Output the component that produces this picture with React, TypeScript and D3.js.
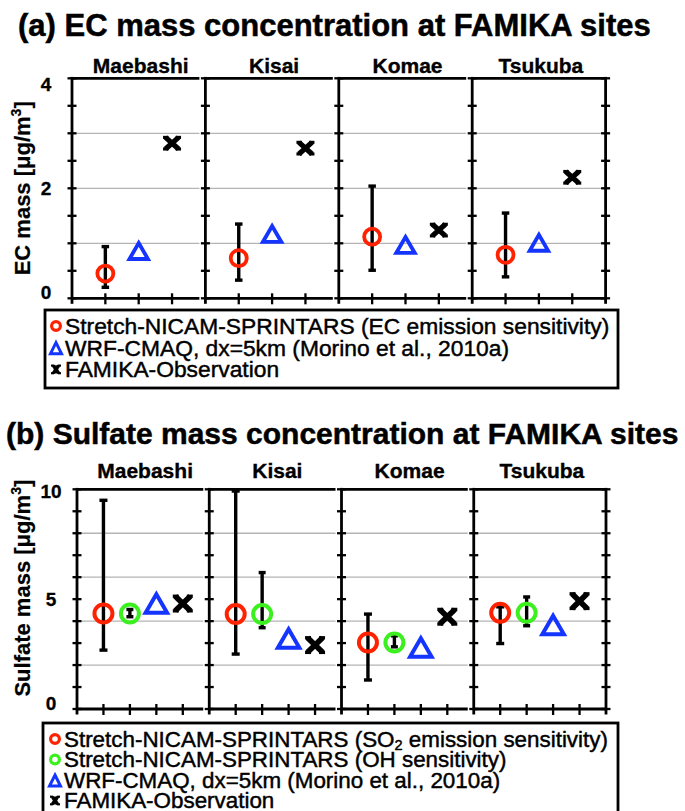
import React from 'react';
import * as d3 from 'd3';

// ---------- data ----------
const sites = ['Maebashi', 'Kisai', 'Komae', 'Tsukuba'];

// (a) EC mass concentration [ug/m3]
const ecNicam = [0.45, 0.73, 1.12, 0.79];
const ecNicamLow = [0.2, 0.33, 0.51, 0.39];
const ecNicamHigh = [0.94, 1.35, 2.04, 1.55];
const ecWrf = [0.86, 1.17, 0.97, 1.01];
const ecObs = [2.82, 2.73, 1.24, 2.2];
const ecTickLabels = [0, 2, 4];

// (b) Sulfate mass concentration [ug/m3]
const so4So2 = [4.35, 4.32, 3.03, 4.38];
const so4So2Low = [2.68, 2.5, 1.32, 2.98];
const so4So2High = [9.5, 9.92, 4.32, 4.65];
const so4Oh = [4.35, 4.32, 3.03, 4.38];
const so4OhLow = [4.2, 3.7, 2.83, 3.79];
const so4OhHigh = [4.53, 6.21, 3.33, 5.1];
const so4Wrf = [4.8, 3.21, 2.8, 3.82];
const so4Obs = [4.8, 2.91, 4.2, 4.91];
const so4TickLabels = [0, 5, 10];

const RED = '#ff2200';
const GREEN = '#3cf020';
const BLUE = '#1434ff';
const FONT = "'Liberation Sans', Arial, Helvetica, sans-serif";

const legendA = [
  { kind: 'circle', color: RED, text: 'Stretch-NICAM-SPRINTARS (EC emission sensitivity)' },
  { kind: 'tri', color: BLUE, text: 'WRF-CMAQ, dx=5km (Morino et al., 2010a)' },
  { kind: 'x', color: '#000', text: 'FAMIKA-Observation' },
];
const legendB = [
  { kind: 'circle', color: RED, text: 'Stretch-NICAM-SPRINTARS (SO|2| emission sensitivity)' },
  { kind: 'circle', color: GREEN, text: 'Stretch-NICAM-SPRINTARS (OH sensitivity)' },
  { kind: 'tri', color: BLUE, text: 'WRF-CMAQ, dx=5km (Morino et al., 2010a)' },
  { kind: 'x', color: '#000', text: 'FAMIKA-Observation' },
];

// ---------- marker shapes ----------
function Circle({ x, y, r, color, sw = 3.8 }: any) {
  return <circle cx={x} cy={y} r={r} fill="none" stroke={color} strokeWidth={sw} />;
}
function Tri({ x, y, w, h, color, sw = 3.8 }: any) {
  const p = `M${x},${y - h / 2}L${x + w / 2},${y + h / 2}L${x - w / 2},${y + h / 2}Z`;
  return <path d={p} fill="none" stroke={color} strokeWidth={sw} strokeLinejoin="miter" />;
}
function XMark({ x, y, w, h, sw = 5.2 }: any) {
  const a = w / 2 - 2.5;
  const b = h / 2 - 1.2;
  const c = Math.max(3, w * 0.3);
  return (
    <g stroke="#000" fill="none">
      <line x1={x - a} y1={y - b} x2={x + a} y2={y + b} strokeWidth={sw} />
      <line x1={x - a} y1={y + b} x2={x + a} y2={y - b} strokeWidth={sw} />
      <line x1={x - w / 2} y1={y - b} x2={x - w / 2 + c} y2={y - b} strokeWidth={sw * 0.6} />
      <line x1={x + w / 2} y1={y - b} x2={x + w / 2 - c} y2={y - b} strokeWidth={sw * 0.6} />
      <line x1={x - w / 2} y1={y + b} x2={x - w / 2 + c} y2={y + b} strokeWidth={sw * 0.6} />
      <line x1={x + w / 2} y1={y + b} x2={x + w / 2 - c} y2={y + b} strokeWidth={sw * 0.6} />
    </g>
  );
}
function ErrBar({ x, y1, y2, cap = 8 }: any) {
  return (
    <g stroke="#000" strokeWidth={3.4}>
      <line x1={x} x2={x} y1={y1} y2={y2} />
      <line x1={x - cap / 2} x2={x + cap / 2} y1={y1} y2={y1} />
      <line x1={x - cap / 2} x2={x + cap / 2} y1={y2} y2={y2} />
    </g>
  );
}

// ---------- panel frame ----------
function Frames({ left0, right, top, bottom, nCat, yScale, ticks, grids, labels, labelX, clampTop }: any) {
  const panelX = d3.scaleLinear().domain([0, sites.length]).range([left0, right]);
  const pw = panelX(1) - panelX(0);
  const inner = d3.scaleLinear().domain([0, nCat + 1]).range([0, pw]);
  const out: any[] = [];
  sites.forEach((s, i) => {
    const L = panelX(i);
    const last = i === sites.length - 1;
    const R = last ? L + pw : L + pw - 6;
    grids.forEach((g: number) =>
      out.push(<line key={`g${i}-${g}`} x1={L} x2={R} y1={yScale(g)} y2={yScale(g)} stroke="#b4b4b4" strokeWidth={1.3} />)
    );
    out.push(<line key={`t${i}`} x1={L} x2={R} y1={top} y2={top} stroke="#000" strokeWidth={2.8} />);
    out.push(<line key={`b${i}`} x1={L} x2={R} y1={bottom} y2={bottom} stroke="#000" strokeWidth={2.8} />);
    out.push(<line key={`l${i}`} x1={L} x2={L} y1={top - 1.4} y2={bottom + 5.5} stroke="#000" strokeWidth={2.8} />);
    ticks.forEach((t: number) =>
      out.push(<line key={`yt${i}-${t}`} x1={L - 4.5} x2={L + 4.5} y1={yScale(t)} y2={yScale(t)} stroke="#000" strokeWidth={2.3} />)
    );
    d3.range(1, nCat + 1).forEach((c) =>
      out.push(<line key={`xt${i}-${c}`} x1={L + inner(c)} x2={L + inner(c)} y1={bottom - 5} y2={bottom + 6} stroke="#000" strokeWidth={2.3} />)
    );
    if (last) {
      out.push(<line key={`r${i}`} x1={L + pw} x2={L + pw} y1={top - 1.4} y2={bottom + 5.5} stroke="#000" strokeWidth={2.8} />);
      ticks.forEach((t: number) =>
        out.push(<line key={`rt${t}`} x1={L + pw - 4.5} x2={L + pw + 4.5} y1={yScale(t)} y2={yScale(t)} stroke="#000" strokeWidth={2.3} />)
      );
    }
  });
  labels.forEach((v: number) => {
    let y = yScale(v);
    y = Math.min(Math.max(y, top + clampTop), bottom - 6);
    out.push(
      <text key={`lab${v}`} x={labelX} y={y} textAnchor="middle" dominantBaseline="central" fontSize={19} fontWeight="bold" stroke="#000" strokeWidth={0.3}>
        {v}
      </text>
    );
  });
  return <g>{out}</g>;
}

function LegendText({ text, x, y, size }: any) {
  const parts = text.split('|');
  const common = { x, y, fontSize: size, dominantBaseline: 'central', stroke: '#000', strokeWidth: 0.45 } as any;
  if (parts.length === 1) return <text {...common}>{text}</text>;
  return (
    <text {...common}>
      {parts[0]}
      <tspan fontSize={size * 0.65} dy={size * 0.28}>{parts[1]}</tspan>
      <tspan dy={-size * 0.28}>{parts[2]}</tspan>
    </text>
  );
}

function Legend({ items, x0, x1, top, bottom, firstY, step, size, mx, tx }: any) {
  return (
    <g>
      <rect x={x0} y={top} width={x1 - x0} height={bottom - top} fill="#fff" stroke="#000" strokeWidth={2.8} />
      {items.map((it: any, i: number) => {
        const y = firstY + i * step;
        return (
          <g key={i}>
            {it.kind === 'circle' && <Circle x={mx} y={y} r={4.4} color={it.color} sw={3.2} />}
            {it.kind === 'tri' && <Tri x={mx} y={y + 0.5} w={11} h={11} color={it.color} sw={3} />}
            {it.kind === 'x' && <XMark x={mx} y={y} w={10} h={10} sw={3.6} />}
            <LegendText text={it.text} x={tx} y={y} size={size} />
          </g>
        );
      })}
    </g>
  );
}

export default function App() {
  // ---- panel (a) geometry ----
  const aLeft = 72, aRight = 605.6, aTop = 78.3, aBottom = 298.3;
  const yA = d3.scaleLinear().domain([0, 4]).range([aBottom, aTop]);
  const pxA = d3.scaleLinear().domain([0, sites.length]).range([aLeft, aRight]);
  const pwA = pxA(1) - pxA(0);
  const catA = d3.scaleLinear().domain([0, 4]).range([0, pwA]);

  // ---- panel (b) geometry ----
  const bLeft = 77, bRight = 606, bTop = 489.3, bBottom = 709;
  const yB = d3.scaleLinear().domain([0, 10]).range([bBottom, bTop]);
  const pxB = d3.scaleLinear().domain([0, sites.length]).range([bLeft, bRight]);
  const pwB = pxB(1) - pxB(0);
  const catB = d3.scaleLinear().domain([0, 5]).range([0, pwB]);

  const titleStyle = { fontWeight: 'bold', stroke: '#000', strokeWidth: 0.5 } as any;

  return (
    <svg width={685} height={811} style={{ position: 'absolute', left: 0, top: 0, background: '#fff' }} fontFamily={FONT}>
      <rect width={685} height={811} fill="#fff" />
      {/* ---------- (a) ---------- */}
      <text x={18} y={36} fontSize={31} {...titleStyle}>(a) EC mass concentration at FAMIKA sites</text>
      {sites.map((s, i) => (
        <text key={s} x={pxA(i) + pwA / 2 + 2} y={73} textAnchor="middle" fontSize={21} {...titleStyle} strokeWidth={0.35}>{s}</text>
      ))}
      <Frames left0={aLeft} right={aRight} top={aTop} bottom={aBottom} nCat={3} yScale={yA}
        ticks={d3.range(0, 4.01, 0.5)} grids={[1, 2, 3]} labels={ecTickLabels} labelX={46} clampTop={6} />
      <text transform={`translate(30,${(aTop + aBottom) / 2}) rotate(-90)`} textAnchor="middle" fontSize={22} fontWeight="bold" stroke="#000" strokeWidth={0.2}>
        EC mass [μg/m<tspan fontSize={14} dy={-9}>3</tspan><tspan dy={9}>]</tspan>
      </text>
      {sites.map((s, i) => {
        const L = pxA(i);
        return (
          <g key={s}>
            <ErrBar x={L + catA(1)} y1={yA(ecNicamHigh[i])} y2={yA(ecNicamLow[i])} cap={7.5} />
            <Circle x={L + catA(1)} y={yA(ecNicam[i])} r={8} color={RED} />
            <Tri x={L + catA(2)} y={yA(ecWrf[i])} w={18.5} h={16} color={BLUE} />
            <XMark x={L + catA(3)} y={yA(ecObs[i])} w={18} h={14} />
          </g>
        );
      })}
      <Legend items={legendA} x0={45} x1={618} top={310} bottom={388} firstY={326} step={21.7} size={22.8} mx={56} tx={65} />

      {/* ---------- (b) ---------- */}
      <text x={6} y={444} fontSize={30} {...titleStyle}>(b) Sulfate mass concentration at FAMIKA sites</text>
      {sites.map((s, i) => (
        <text key={s} x={pxB(i) + pwB / 2 + 2} y={478} textAnchor="middle" fontSize={21} {...titleStyle} strokeWidth={0.35}>{s}</text>
      ))}
      <Frames left0={bLeft} right={bRight} top={bTop} bottom={bBottom} nCat={4} yScale={yB}
        ticks={d3.range(0, 10.01, 1)} grids={[2, 4, 6, 8]} labels={so4TickLabels} labelX={51} clampTop={2} />
      <text transform={`translate(30,${(bTop + bBottom) / 2 - 11}) rotate(-90)`} textAnchor="middle" fontSize={22} fontWeight="bold" stroke="#000" strokeWidth={0.2}>
        Sulfate mass [μg/m<tspan fontSize={14} dy={-9}>3</tspan><tspan dy={9}>]</tspan>
      </text>
      {sites.map((s, i) => {
        const L = pxB(i);
        return (
          <g key={s}>
            <ErrBar x={L + catB(1)} y1={yB(so4So2High[i])} y2={yB(so4So2Low[i])} cap={8} />
            <Circle x={L + catB(1)} y={yB(so4So2[i])} r={9} color={RED} sw={4} />
            <ErrBar x={L + catB(2)} y1={yB(so4OhHigh[i])} y2={yB(so4OhLow[i])} cap={7} />
            <Circle x={L + catB(2)} y={yB(so4Oh[i])} r={9} color={GREEN} sw={4} />
            <Tri x={L + catB(3)} y={yB(so4Wrf[i])} w={21.5} h={18.5} color={BLUE} sw={4} />
            <XMark x={L + catB(4)} y={yB(so4Obs[i])} w={20} h={17} sw={5.6} />
          </g>
        );
      })}
      <Legend items={legendB} x0={43} x1={618} top={723} bottom={840} firstY={739} step={20.5} size={22.4} mx={55} tx={64} />
    </svg>
  );
}
